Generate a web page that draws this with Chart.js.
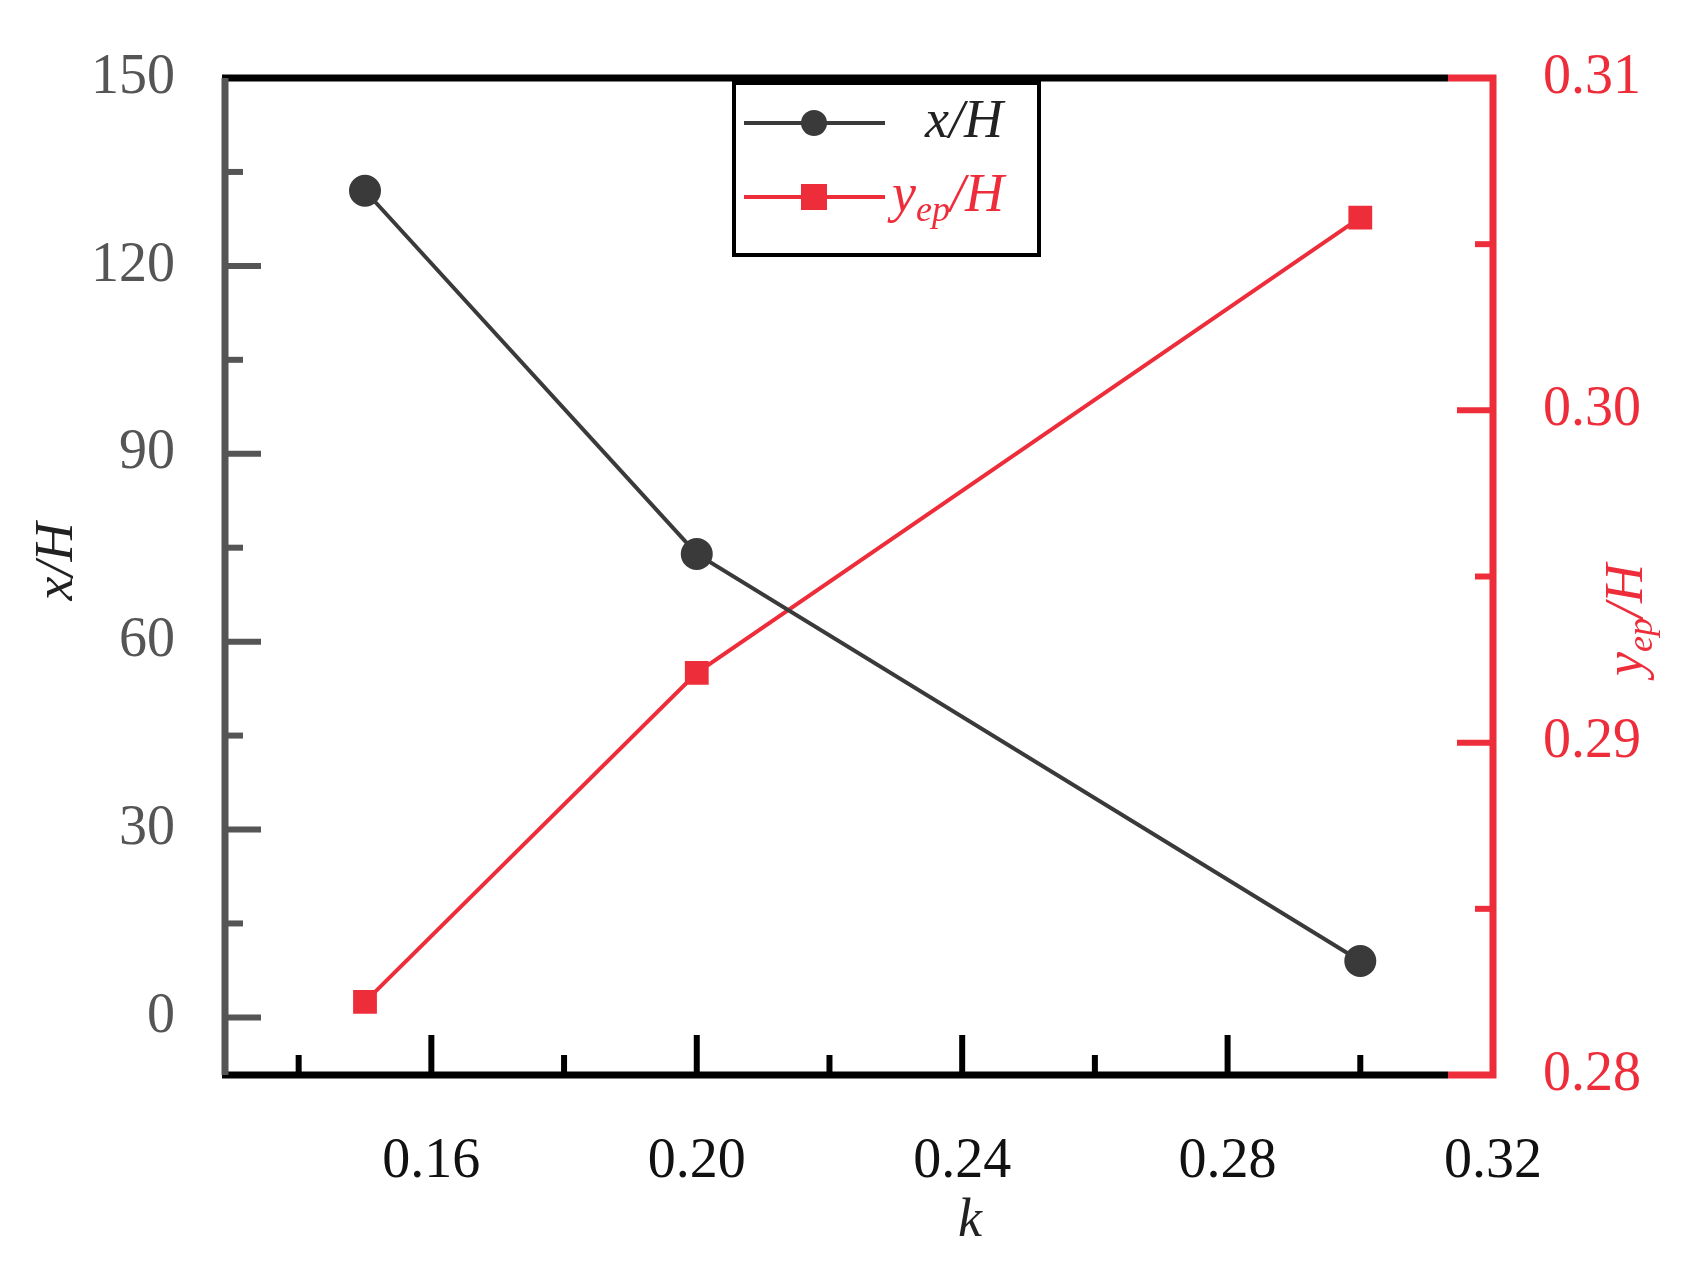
<!DOCTYPE html>
<html>
<head>
<meta charset="utf-8">
<script src="https://cdn.jsdelivr.net/npm/chart.js@4"></script>
<style>
  html, body { margin: 0; padding: 0; background: #fff; }
  #wrap { width: 1691px; height: 1266px; }
</style>
</head>
<body>
<div id="wrap"><canvas id="c"></canvas></div>
<script>
const kValues = [0.15, 0.20, 0.30]
const xOverH = [132, 74, 9]
const yepOverH = [0.2822, 0.2921, 0.3058]
const leftTicks = [0, 30, 60, 90, 120, 150]
const bottomTicks = [0.16, 0.20, 0.24, 0.28, 0.32]
const rightTicks = [0.28, 0.29, 0.30, 0.31]

const BLACK = "#3a3a3a"
const RED = "#ee2d3b"
const SERIF = "'Liberation Serif', 'DejaVu Serif', serif"

const frame = {
  id: "frame",
  afterDraw(chart) {
    const { ctx, chartArea: a, scales } = chart
    const x = scales.x, yl = scales.y, yr = scales.y2
    ctx.save()
    ctx.lineCap = "butt"
    // ticks
    const tick = (color, w, pts) => {
      ctx.strokeStyle = color; ctx.lineWidth = w
      pts.forEach(p => { ctx.beginPath(); ctx.moveTo(p[0], p[1]); ctx.lineTo(p[2], p[3]); ctx.stroke() })
    }
    const lp = []
    for (let v = 0; v <= 150; v += 15) {
      const py = yl.getPixelForValue(v), len = v % 30 === 0 ? 36 : 18
      lp.push([a.left, py, a.left + len, py])
    }
    tick("#555", 6, lp)
    const bp = []
    for (let v = 0.14; v <= 0.305; v += 0.02) {
      const px = x.getPixelForValue(v), major = Math.round(v * 100) % 4 === 0
      bp.push([px, a.bottom, px, a.bottom - (major ? 40 : 20)])
    }
    tick("#000", 6, bp)
    const rp = []
    for (let v = 0.28; v <= 0.3101; v += 0.005) {
      const py = yr.getPixelForValue(v), major = Math.round(v * 1000) % 10 === 0
      rp.push([a.right, py, a.right - (major ? 36 : 18), py])
    }
    tick(RED, 6, rp)
    // frame lines
    ctx.lineWidth = 7
    ctx.strokeStyle = "#000"
    ctx.beginPath(); ctx.moveTo(a.left - 3, a.top); ctx.lineTo(a.right - 45, a.top); ctx.stroke()
    ctx.beginPath(); ctx.moveTo(a.left - 3, a.bottom); ctx.lineTo(a.right - 45, a.bottom); ctx.stroke()
    ctx.strokeStyle = RED
    ctx.beginPath(); ctx.moveTo(a.right - 45, a.top); ctx.lineTo(a.right, a.top); ctx.lineTo(a.right, a.bottom); ctx.lineTo(a.right - 45, a.bottom); ctx.stroke()
    ctx.strokeStyle = "#555"
    ctx.beginPath(); ctx.moveTo(a.left, a.top); ctx.lineTo(a.left, a.bottom); ctx.stroke()

    // axis titles
    ctx.textBaseline = "middle"; ctx.textAlign = "center"
    ctx.font = "italic 54px " + SERIF
    ctx.fillStyle = "#222"
    ctx.fillText("k", 970, 1222)
    ctx.save(); ctx.translate(58, (a.top + a.bottom) / 2 - 15); ctx.rotate(-Math.PI / 2)
    ctx.fillText("x/H", 0, 0); ctx.restore()
    ctx.save(); ctx.translate(1628, 620); ctx.rotate(-Math.PI / 2)
    ctx.fillStyle = RED; ctx.textAlign = "left"
    ctx.font = "italic 54px " + SERIF
    const yw = ctx.measureText("y").width
    ctx.font = "italic 36px " + SERIF
    const ew = ctx.measureText("ep").width
    ctx.font = "italic 54px " + SERIF
    const hw = ctx.measureText("/H").width
    let sx = -(yw + ew + hw) / 2
    ctx.fillText("y", sx, 0)
    ctx.font = "italic 36px " + SERIF
    ctx.fillText("ep", sx + yw, 15)
    ctx.font = "italic 54px " + SERIF
    ctx.fillText("/H", sx + yw + ew, 0)
    ctx.restore()

    // legend
    const lx = 734, ly = 83, lw = 305, lh = 172
    ctx.fillStyle = "#fff"; ctx.fillRect(lx, ly, lw, lh)
    ctx.strokeStyle = "#000"; ctx.lineWidth = 4; ctx.strokeRect(lx, ly, lw, lh)
    const r1 = 123, r2 = 197
    ctx.lineWidth = 4
    ctx.strokeStyle = BLACK
    ctx.beginPath(); ctx.moveTo(744, r1); ctx.lineTo(885, r1); ctx.stroke()
    ctx.fillStyle = BLACK; ctx.beginPath(); ctx.arc(814, r1, 13, 0, Math.PI * 2); ctx.fill()
    ctx.strokeStyle = RED
    ctx.beginPath(); ctx.moveTo(744, r2); ctx.lineTo(885, r2); ctx.stroke()
    ctx.fillStyle = RED; ctx.fillRect(801, r2 - 13, 26, 26)
    ctx.textAlign = "left"
    ctx.font = "italic 54px " + SERIF
    ctx.fillStyle = "#222"
    ctx.fillText("x/H", 925, r1)
    ctx.fillStyle = RED
    ctx.fillText("y", 892, r2)
    ctx.font = "italic 36px " + SERIF
    ctx.fillText("ep", 916, r2 + 15)
    ctx.font = "italic 54px " + SERIF
    ctx.fillText("/H", 950, r2)
    ctx.restore()
  }
}

new Chart(document.getElementById("c"), {
  type: "line",
  data: {
    datasets: [
      {
        label: "x/H",
        data: kValues.map((k, i) => ({ x: k, y: xOverH[i] })),
        yAxisID: "y",
        borderColor: BLACK,
        backgroundColor: BLACK,
        borderWidth: 4,
        pointStyle: "circle",
        pointRadius: 14,
        tension: 0
      },
      {
        label: "yep/H",
        data: kValues.map((k, i) => ({ x: k, y: yepOverH[i] })),
        yAxisID: "y2",
        borderColor: RED,
        backgroundColor: RED,
        borderWidth: 4,
        pointStyle: "rect",
        pointRadius: 14,
        tension: 0
      }
    ]
  },
  plugins: [frame],
  options: {
    responsive: true,
    maintainAspectRatio: false,
    animation: false,
    layout: { padding: { top: 78, left: 0, right: 0, bottom: 0 } },
    plugins: { legend: { display: false }, tooltip: { enabled: false } },
    scales: {
      x: {
        type: "linear",
        min: 0.1289,
        max: 0.32,
        afterFit: s => { s.height = 191 },
        afterBuildTicks: s => { s.ticks = bottomTicks.map(v => ({ value: v })) },
        grid: { display: false },
        border: { display: false },
        ticks: {
          padding: 46,
          color: "#111",
          font: { family: SERIF, size: 56 },
          callback: v => v.toFixed(2)
        }
      },
      y: {
        position: "left",
        min: -9.2,
        max: 150,
        afterFit: s => { s.width = 225 },
        afterBuildTicks: s => { s.ticks = leftTicks.map(v => ({ value: v })) },
        grid: { display: false },
        border: { display: false },
        ticks: {
          padding: 42,
          color: "#555",
          font: { family: SERIF, size: 56 }
        }
      },
      y2: {
        position: "right",
        min: 0.28,
        max: 0.31,
        afterFit: s => { s.width = 198 },
        afterBuildTicks: s => { s.ticks = rightTicks.map(v => ({ value: v })) },
        grid: { display: false },
        border: { display: false },
        ticks: {
          padding: 42,
          color: RED,
          font: { family: SERIF, size: 56 },
          callback: v => v.toFixed(2)
        }
      }
    }
  }
})
</script>
</body>
</html>
